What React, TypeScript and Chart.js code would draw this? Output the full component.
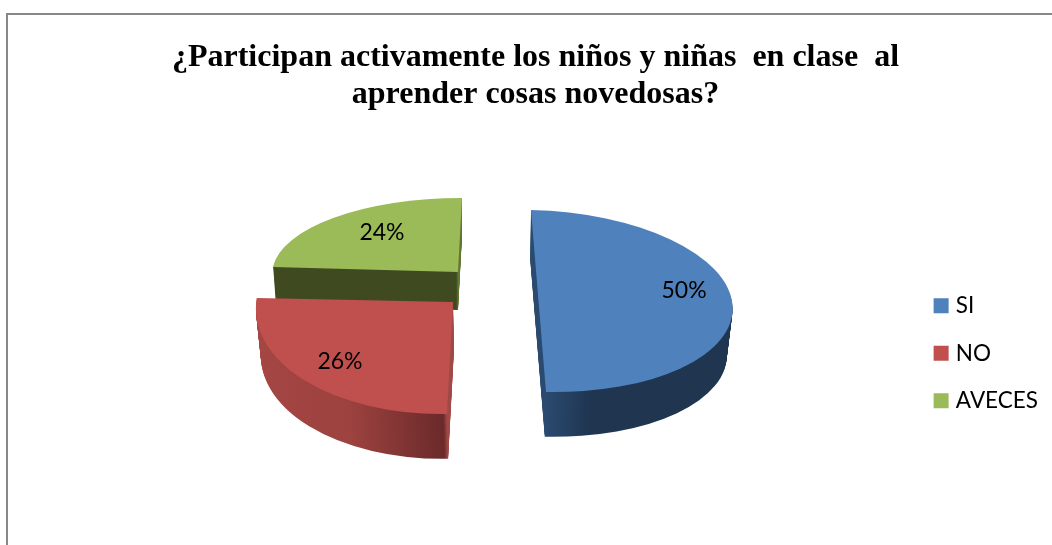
import React, { useEffect, useRef } from "react";
import { Chart, registerables } from "chart.js";

Chart.register(...registerables);

const categories = ["SI", "NO", "AVECES"];
const values = [50, 26, 24];
const faceColors = ["#4F81BD", "#C0504D", "#9BBB59"];
const titleLines = ["¿Participan activamente los niños y niñas  en clase  al", "aprender cosas novedosas?"];

const RADIUS = 150;
// Hand-fitted 3D look: how each slice is projected from the library's circle to the page.
const projections = [
  { c: [538.5, 301], ex: [194, 4], ey: [7.5, 91], depth: [-1, 47], shrink: 0.975, label: [0.756, -0.145],
    wall: [[0, "#2A4A70"], [0.5, "#2A4A70"], [0.62, "#1F3550"], [1, "#1F3550"]] },
  { c: [453, 302], ex: [197, -3], ey: [-6, 112], depth: [1, 47], shrink: 0.98, label: [-0.558, 0.521],
    wall: [[0, "#A54643"], [0.25, "#9C423F"], [0.49, "#6B2A2A"], [0.5, "#A04A48"], [1, "#A04A48"]] },
  { c: [458, 272], ex: [185.6, 0.34], ey: [-4, 74], depth: [0, 38], shrink: 0.985, label: [-0.421, -0.527],
    wall: [[0, "#404A21"], [0.495, "#404A21"], [0.505, "#7F9A44"], [1, "#7F9A44"]] },
];

const pie3d = {
  id: "pie3d",
  beforeDraw(chart: any) {
    const { ctx, width, height } = chart;
    ctx.save();
    ctx.fillStyle = "#FFFFFF";
    ctx.fillRect(0, 0, width, height);
    ctx.fillStyle = "#888888";
    ctx.fillRect(6, 13, width, 2);
    ctx.fillRect(6, 13, 2, height);
    ctx.restore();
  },
  beforeDatasetsDraw(chart: any) {
    const { ctx } = chart;
    const arcs = chart.getDatasetMeta(0).data;
    const place = (arc: any, p: any, t: number) => {
      const s = 1 - (1 - p.shrink) * t;
      const a = (p.ex[0] * s) / RADIUS, b = (p.ex[1] * s) / RADIUS;
      const c = (p.ey[0] * s) / RADIUS, d = (p.ey[1] * s) / RADIUS;
      const X = p.c[0] + p.depth[0] * t, Y = p.c[1] + p.depth[1] * t;
      ctx.transform(a, b, c, d, X - a * arc.x - c * arc.y, Y - b * arc.x - d * arc.y);
    };
    for (const i of [2, 1, 0]) {
      const arc = arcs[i];
      const p = projections[i];
      const base = arc.options;
      const steps = Math.ceil(Math.abs(p.depth[1]));
      const grad = ctx.createLinearGradient(arc.x - RADIUS, 0, arc.x + RADIUS, 0);
      p.wall.forEach(([o, col]: any) => grad.addColorStop(o, col));
      arc.options = { ...base, backgroundColor: grad };
      for (let k = steps; k > 0; k--) {
        ctx.save();
        place(arc, p, k / steps);
        arc.draw(ctx);
        ctx.restore();
      }
      arc.options = base;
      ctx.save();
      place(arc, p, 0);
      arc.draw(ctx);
      ctx.restore();
    }
    return false;
  },
  afterDraw(chart: any) {
    const { ctx } = chart;
    ctx.save();
    ctx.font = '23px Lato';
    ctx.fillStyle = "#000000";
    ctx.textAlign = "center";
    ctx.textBaseline = "middle";
    values.forEach((v, i) => {
      const p = projections[i];
      const x = p.c[0] + p.ex[0] * p.label[0] + p.ey[0] * p.label[1];
      const y = p.c[1] + p.ex[1] * p.label[0] + p.ey[1] * p.label[1];
      ctx.fillText(v + "%", x, y);
    });
    ctx.restore();
  },
};

export default function App() {
  const ref = useRef<HTMLCanvasElement>(null);
  useEffect(() => {
    document.body.style.margin = "0";
    document.body.style.overflow = "hidden";
    const chart = new Chart(ref.current as any, {
      type: "pie",
      data: {
        labels: categories,
        datasets: [{ data: values, backgroundColor: faceColors, borderWidth: 0, radius: RADIUS } as any],
      },
      options: {
        responsive: false,
        animation: false,
        layout: { padding: { left: 23, right: 4, top: 0, bottom: 108 } },
        plugins: {
          tooltip: { enabled: false },
          title: {
            display: true,
            text: titleLines,
            color: "#000000",
            font: { family: '"Liberation Serif"', size: 32, weight: "bold", lineHeight: 1.156 },
            padding: { top: 39, bottom: 10 },
          },
          legend: {
            position: "right",
            align: "end",
            labels: {
              boxWidth: 7,
              boxHeight: 7,
              padding: 25,
              color: "#000000",
              font: { family: "Lato", size: 22.5 },
              generateLabels() {
                return categories.map((text, i) => ({
                  text,
                  index: i,
                  fillStyle: faceColors[i],
                  strokeStyle: faceColors[i],
                  lineWidth: 8,
                  fontColor: "#000000",
                  hidden: false,
                }));
              },
            },
          },
        },
      } as any,
      plugins: [pie3d],
    });
    return () => chart.destroy();
  }, []);
  return <canvas ref={ref} width={1052} height={545} style={{ display: "block" }} />;
}
